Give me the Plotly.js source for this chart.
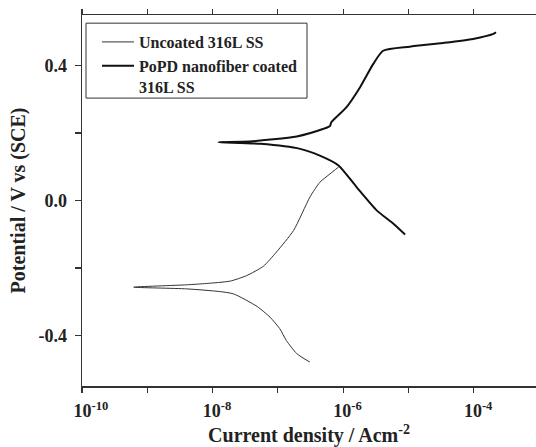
<!DOCTYPE html>
<html>
<head>
<meta charset="utf-8">
<script src="https://cdn.plot.ly/plotly-3.0.1.min.js"></script>
<style>html,body{margin:0;padding:0;background:#fff;}#chart{width:536px;height:447px;}</style>
</head>
<body>
<div id="chart"></div>
<script>
// Uncoated 316L SS: from cathodic end, through Ecorr, to anodic end
const uncoatedCurrent = [3.09e-7, 1.95e-7, 1.35e-7, 1.07e-7, 7.6e-8, 4.8e-8, 2.1e-8, 1.29e-8, 4.0e-9, 6.2e-10,
                         4.0e-9, 8.1e-9, 1.86e-8, 3.3e-8, 6.0e-8, 9.5e-8, 1.74e-7, 3.1e-7, 4.4e-7, 6.3e-7, 8.5e-7];
const uncoatedPotential = [-0.479, -0.454, -0.415, -0.380, -0.346, -0.314, -0.277, -0.270, -0.262, -0.257,
                           -0.250, -0.246, -0.239, -0.223, -0.195, -0.153, -0.089, 0.010, 0.054, 0.079, 0.099];

// PoPD nanofiber coated 316L SS
const coatedCurrent = [8.9e-6, 5.9e-6, 3.3e-6, 1.62e-6, 8.5e-7, 4.4e-7, 2.2e-7, 5.4e-8, 1.23e-8,
                       3.7e-8, 1.95e-7, 4.9e-7, 6.3e-7, 6.6e-7, 1.12e-6, 1.82e-6, 2.9e-6, 4.1e-6, 1.05e-5,
                       3.4e-5, 9.8e-5, 2.0e-4, 2.2e-4];
const coatedPotential = [-0.101, -0.069, -0.030, 0.039, 0.104, 0.133, 0.153, 0.168, 0.173,
                         0.175, 0.190, 0.212, 0.221, 0.232, 0.276, 0.336, 0.405, 0.444, 0.456,
                         0.467, 0.479, 0.494, 0.499];

const seriesNames = ['Uncoated 316L SS', 'PoPD nanofiber coated<br>316L SS'];

const xTickVals = [1e-10, 1e-9, 1e-8, 1e-7, 1e-6, 1e-5, 1e-4, 1e-3];
const xTickText = ['&nbsp;&nbsp;&nbsp;&nbsp;10<sup>-10</sup>', '', '&nbsp;&nbsp;10<sup>-8</sup>', '',
                   '&nbsp;&nbsp;10<sup>-6</sup>', '', '&nbsp;&nbsp;10<sup>-4</sup>', ''];
const yTickVals = [-0.4, -0.2, 0.0, 0.2, 0.4];
const yTickText = ['-0.4', '', '0.0', '', '0.4'];

const serif = 'Liberation Serif, Times New Roman, serif';

const traces = [
  {x: uncoatedCurrent, y: uncoatedPotential, name: seriesNames[0], mode: 'lines',
   line: {color: '#333', width: 1, shape: 'spline', smoothing: 0.6}},
  {x: coatedCurrent, y: coatedPotential, name: seriesNames[1], mode: 'lines',
   line: {color: '#111', width: 2, shape: 'spline', smoothing: 0.6}}
];

const axisColor = '#333';
const layout = {
  width: 536, height: 447,
  margin: {l: 82, r: 0, t: 15, b: 61},
  paper_bgcolor: '#fff', plot_bgcolor: '#fff',
  font: {family: serif, size: 17, color: '#222', weight: 'bold'},
  showlegend: true,
  legend: {
    x: 0.033, y: 0.973, xanchor: 'left', yanchor: 'top',
    borderwidth: 0, bgcolor: 'rgba(0,0,0,0)',
    font: {family: serif, size: 16, color: '#222', weight: 'bold'},
    valign: 'top', tracegroupgap: 0, itemwidth: 32
  },
  shapes: [{
    type: 'rect', xref: 'paper', yref: 'paper',
    x0: 0.0088, x1: 0.4956, y0: 0.776, y1: 0.978,
    line: {color: '#333', width: 1}, fillcolor: 'rgba(0,0,0,0)'
  }],
  xaxis: {
    type: 'log', range: [-10, -3.045],
    tickvals: xTickVals, ticktext: xTickText,
    ticks: 'outside', ticklen: 5, tickwidth: 1.2, tickcolor: axisColor,
    showline: true, linecolor: axisColor, linewidth: 1.5, mirror: 'ticks',
    showgrid: false, zeroline: false,
    tickfont: {size: 18},
    ticklabelstandoff: 3,
    title: {text: 'Current density / Acm<sup>-2</sup>', font: {size: 20}, standoff: 11}
  },
  yaxis: {
    range: [-0.55, 0.55],
    tickvals: yTickVals, ticktext: yTickText,
    ticks: 'outside', ticklen: 6, tickwidth: 1.2, tickcolor: axisColor,
    showline: true, linecolor: axisColor, linewidth: 1.5, mirror: false,
    showgrid: false, zeroline: false,
    tickfont: {size: 18},
    ticklabelstandoff: 4,
    title: {text: 'Potential / V vs (SCE)', font: {size: 20}, standoff: 7}
  }
};

Plotly.newPlot('chart', traces, layout, {staticPlot: true, displayModeBar: false});
</script>
</body>
</html>
